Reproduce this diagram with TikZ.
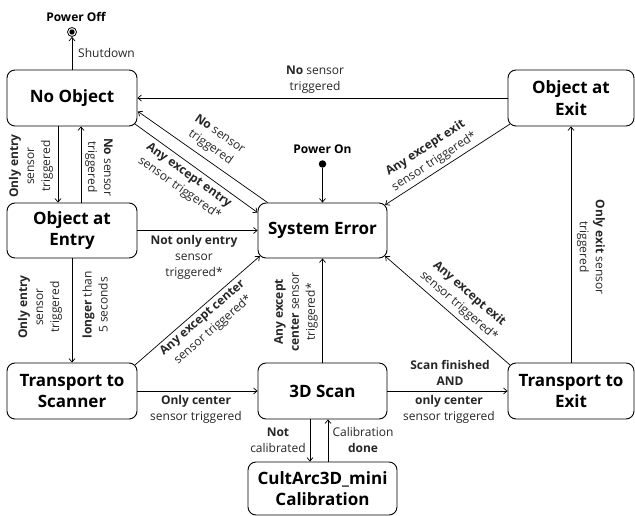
\documentclass[tikz,border=0pt]{standalone}
\usepackage{fontspec}
\setmainfont{Open Sans}
\usetikzlibrary{arrows.meta,calc}

\begin{document}
\begin{tikzpicture}[x=1pt,y=-1pt,
  state/.style={draw,rounded corners=8pt,line width=0.9pt,align=center,inner sep=0pt,
    font=\fontsize{17}{21.5}\selectfont\bfseries},
  lbl/.style={font=\fontsize{12}{16}\selectfont,align=center,inner sep=0pt,text=black!85},
  ttl/.style={font=\fontsize{12}{16}\selectfont\bfseries,inner sep=0pt},
  conn/.style={line width=0.7pt,-{Straight Barb[length=3.5pt,width=6pt]}},
]
\useasboundingbox (0,0) rectangle (635,516);

% states
\node[state,minimum width=130pt,minimum height=56pt] (noobj)   at (72,98)    {No Object};
\node[state,minimum width=126pt,minimum height=56pt] (exitobj) at (571,98)   {Object at\\Exit};
\node[state,minimum width=130pt,minimum height=55pt] (entry)   at (72,230.5) {Object at\\Entry};
\node[state,minimum width=129pt,minimum height=55pt] (syserr)  at (322.5,230.5) {System Error};
\node[state,minimum width=130pt,minimum height=56pt] (tscan)   at (72,391)   {Transport to\\Scanner};
\node[state,minimum width=129pt,minimum height=56pt] (scan)    at (322.5,391) {3D Scan};
\node[state,minimum width=126pt,minimum height=56pt] (texit)   at (571,391)  {Transport to\\Exit};
\node[state,minimum width=149pt,minimum height=53pt] (calib)   at (322.5,488.5) {CultArc3D\_mini\\Calibration};

% start and end points
\node[circle,draw,line width=0.8pt,minimum size=9pt,inner sep=0pt] (off) at (72,32) {};
\fill (off.center) circle[radius=2.7pt];
\node[ttl] (offlbl) at (76,17) {Power Off};
\node[circle,fill,minimum size=7.5pt,inner sep=0pt] (on) at (322.5,164) {};
\node[ttl] (onlbl) at (322.5,149) {Power On};

% transitions
\draw[conn] (noobj.north) -- (off.south);
\draw[conn] (exitobj.west) -- (exitobj.west -| noobj.east);
\draw[conn] ($(syserr.north west)+(10,0)$) -- ($(noobj.south east)+(0.5,-15)$);
\draw[conn] ($(noobj.south east)+(-2.5,-2.5)$) -- ($(syserr.north west)+(0,10)$);
\draw[conn] ([xshift=-14pt]noobj.south) -- ([xshift=-14pt]entry.north);
\draw[conn] ([xshift=9pt]entry.north) -- ([xshift=9pt]noobj.south);
\draw[conn] (on) -- (syserr.north);
\draw[conn] ($(exitobj.south west)+(2.3,-2.3)$) -- ($(syserr.north east)+(-2.3,2.3)$);
\draw[conn] (entry.east) -- (syserr.west);
\draw[conn] (entry.south) -- (tscan.north);
\draw[conn] ($(tscan.north east)+(-2.3,2.3)$) -- ($(syserr.south west)+(2.3,-2.3)$);
\draw[conn] (tscan.east) -- (scan.west);
\draw[conn] (scan.north) -- (syserr.south);
\draw[conn] (scan.east) -- (texit.west);
\draw[conn] ($(texit.north west)+(2.3,2.3)$) -- ($(syserr.south east)+(-2.3,-2.3)$);
\draw[conn] (texit.north) -- (exitobj.south);
\draw[conn] ([xshift=-12.5pt]scan.south) -- ([xshift=-12.5pt]calib.north);
\draw[conn] ([xshift=5.5pt]calib.north) -- ([xshift=5.5pt]scan.south);

% transition labels
\node[lbl,anchor=west] (l1) at (78,53) {Shutdown};
\node[lbl] (l2) at (315,80) {{\bfseries No} sensor\\triggered};
\node[lbl,rotate=-35] (l3) at (215,141) {{\bfseries No} sensor\\triggered};
\node[lbl,rotate=-35.5] (l4) at (184,182) {{\bfseries Any except entry}\\sensor triggered*};
\node[lbl,rotate=90] (l5) at (31,166) {{\bfseries Only entry}\\sensor\\triggered};
\node[lbl,rotate=-90] (l6) at (99,167) {{\bfseries No} sensor\\triggered};
\node[lbl,rotate=33] (l8) at (430,155) {{\bfseries Any except exit}\\sensor triggered*};
\node[lbl] (l9) at (194,257) {{\bfseries Not only entry}\\sensor\\triggered*};
\node[lbl,rotate=90] (l10a) at (40,307) {{\bfseries Only entry}\\sensor\\triggered};
\node[lbl,rotate=90] (l10b) at (95,305) {{\bfseries longer} than\\5 seconds};
\node[lbl,rotate=41] (l11) at (208,324) {{\bfseries Any except center}\\sensor triggered*};
\node[lbl] (l12) at (196,409) {{\bfseries Only center}\\sensor triggered};
\node[lbl,rotate=90] (l13) at (296,312) {{\bfseries Any except}\\{\bfseries center} sensor\\triggered*};
\node[lbl] (l14a) at (450,373) {{\bfseries Scan finished}\\{\bfseries AND}};
\node[lbl] (l14b) at (449,409) {{\bfseries only center}\\sensor triggered};
\node[lbl,rotate=-41] (l15) at (464,300) {{\bfseries Any except exit}\\sensor triggered*};
\node[lbl,rotate=-90] (l16) at (591,247) {{\bfseries Only exit} sensor\\triggered};
\node[lbl] (l17) at (278,440) {{\bfseries Not}\\calibrated};
\node[lbl] (l18) at (363,440) {Calibration\\{\bfseries done}};
\end{tikzpicture}
\end{document}
